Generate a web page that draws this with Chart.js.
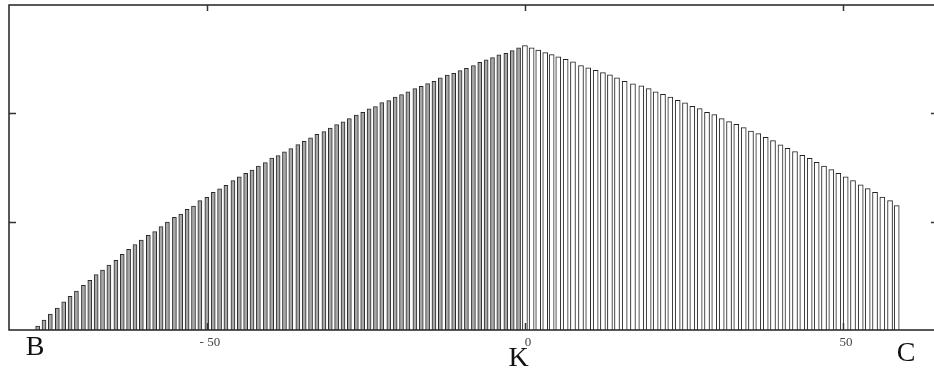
<!DOCTYPE html>
<html>
<head>
<meta charset="utf-8">
<script src="https://cdn.jsdelivr.net/npm/chart.js@4/dist/chart.umd.min.js"></script>
<style>
  html, body { margin: 0; padding: 0; background: #fff; }
  #wrap { width: 934px; height: 372px; }
</style>
</head>
<body>
<div id="wrap"><canvas id="myChart"></canvas></div>
<script>
// bar positions (axis units) and heights
const leftX = [-76.6, -75.6, -74.6, -73.5, -72.5, -71.5, -70.5, -69.4, -68.4, -67.4,
    -66.4, -65.4, -64.3, -63.3, -62.3, -61.3, -60.3, -59.2, -58.2, -57.2,
    -56.2, -55.1, -54.1, -53.1, -52.1, -51.1, -50.0, -49.0, -48.0, -47.0,
    -45.9, -44.9, -43.9, -42.9, -41.9, -40.8, -39.8, -38.8, -37.8, -36.8,
    -35.7, -34.7, -33.7, -32.7, -31.6, -30.6, -29.6, -28.6, -27.6, -26.5,
    -25.5, -24.5, -23.5, -22.5, -21.4, -20.4, -19.4, -18.4, -17.3, -16.3,
    -15.3, -14.3, -13.3, -12.2, -11.2, -10.2, -9.2, -8.1, -7.1, -6.1,
    -5.1, -4.1, -3.0, -2.0, -1.0];
const leftY = [0.037, 0.092, 0.148, 0.203, 0.259, 0.311, 0.360, 0.412, 0.459, 0.511,
    0.554, 0.600, 0.643, 0.699, 0.745, 0.788, 0.831, 0.874, 0.908, 0.954,
    0.997, 1.041, 1.070, 1.114, 1.145, 1.194, 1.225, 1.271, 1.302, 1.336,
    1.379, 1.413, 1.447, 1.477, 1.512, 1.545, 1.588, 1.609, 1.644, 1.674,
    1.711, 1.742, 1.773, 1.807, 1.831, 1.864, 1.896, 1.921, 1.951, 1.985,
    2.010, 2.041, 2.062, 2.099, 2.117, 2.151, 2.173, 2.198, 2.228, 2.250,
    2.274, 2.296, 2.327, 2.352, 2.370, 2.394, 2.416, 2.440, 2.470, 2.493,
    2.514, 2.539, 2.555, 2.579, 2.604];

const rightX = [0, 1.05, 2.09, 3.19, 4.2, 5.24, 6.4, 7.55, 8.81, 9.95,
    11.12, 12.26, 13.36, 14.47, 15.68, 16.98, 18.29, 19.45, 20.55, 21.7,
    22.85, 24.01, 25.16, 26.31, 27.47, 28.62, 29.76, 30.93, 32.08, 33.22,
    34.39, 35.53, 36.68, 37.85, 38.99, 40.17, 41.27, 42.45, 43.6, 44.76,
    45.86, 47.01, 48.16, 49.26, 50.42, 51.57, 52.78, 53.88, 55.03, 56.18,
    57.39, 58.44];
const rightY = [2.625, 2.604, 2.583, 2.560, 2.542, 2.521, 2.499, 2.475, 2.440, 2.419,
    2.398, 2.376, 2.355, 2.327, 2.296, 2.273, 2.253, 2.228, 2.198, 2.176,
    2.151, 2.121, 2.096, 2.065, 2.043, 2.010, 1.988, 1.951, 1.923, 1.899,
    1.868, 1.837, 1.813, 1.779, 1.748, 1.710, 1.678, 1.646, 1.613, 1.585,
    1.548, 1.514, 1.480, 1.447, 1.413, 1.379, 1.339, 1.305, 1.271, 1.228,
    1.194, 1.148];

const xTicks = [-50, 0, 50];
const yTicks = [1, 2];

// point names under the axis
const pointNames = ['B', 'K', 'C'];
const pointX = [-77.0, -1.0, 59.9];

const toPoints = (xs, ys) => xs.map((x, i) => ({ x: x, y: ys[i] }));

// frame, inward tick marks and the B / K / C letters
const framePlugin = {
    id: 'frame',
    afterDraw(chart) {
        const ctx = chart.ctx;
        const a = chart.chartArea;
        const xs = chart.scales.x;
        const ys = chart.scales.y;
        ctx.save();
        ctx.strokeStyle = '#222';
        ctx.lineWidth = 1.5;
        ctx.beginPath();
        ctx.moveTo(a.right + 2, a.top);
        ctx.lineTo(a.left, a.top);
        ctx.lineTo(a.left, a.bottom);
        ctx.lineTo(a.right + 2, a.bottom);
        ctx.stroke();

        ctx.strokeStyle = '#333';
        ctx.beginPath();
        xTicks.forEach(v => {
            const px = Math.round(xs.getPixelForValue(v)) + 0.5;
            ctx.moveTo(px, a.bottom);
            ctx.lineTo(px, a.bottom - 7);
            ctx.moveTo(px, a.top);
            ctx.lineTo(px, a.top + 6);
        });
        yTicks.forEach(v => {
            const py = Math.round(ys.getPixelForValue(v)) + 0.5;
            ctx.moveTo(a.left, py);
            ctx.lineTo(a.left + 7, py);
            ctx.moveTo(a.right, py);
            ctx.lineTo(a.right - 3, py);
        });
        ctx.stroke();

        ctx.fillStyle = '#111';
        ctx.font = '28px "Liberation Serif"';
        ctx.textAlign = 'center';
        ctx.textBaseline = 'alphabetic';
        const base = [355, 366, 361];
        pointNames.forEach((n, i) => {
            ctx.fillText(n, xs.getPixelForValue(pointX[i]), base[i]);
        });
        ctx.restore();
    }
};

const ctx = document.querySelector('#myChart');
const myChart = new Chart(ctx, {
    type: 'bar',
    data: {
        datasets: [
            {
                data: toPoints(leftX, leftY),
                backgroundColor: '#a8a8a8',
                borderColor: '#2a2a2a',
                borderWidth: 1,
                borderSkipped: 'bottom',
                barThickness: 4,
                grouped: false,
            },
            {
                data: toPoints(rightX, rightY),
                backgroundColor: '#ffffff',
                borderColor: '#222',
                borderWidth: 1,
                borderSkipped: 'bottom',
                barThickness: 5,
                grouped: false,
            },
        ],
    },
    options: {
        responsive: true,
        maintainAspectRatio: false,
        animation: false,
        layout: { padding: { left: 9, top: 5, right: 0, bottom: 0 } },
        plugins: {
            legend: { display: false },
            tooltip: { enabled: false },
        },
        scales: {
            x: {
                type: 'linear',
                min: -81.1,
                max: 64.3,
                offset: false,
                grid: { display: false, drawTicks: false },
                border: { display: false },
                afterBuildTicks: (scale) => {
                    scale.ticks = xTicks.map(v => ({ value: v }));
                },
                afterFit: (scale) => { scale.height = 42; },
                ticks: {
                    padding: 5,
                    labelOffset: 3,
                    color: '#444',
                    maxRotation: 0,
                    autoSkip: false,
                    font: { family: 'Liberation Serif', size: 13 },
                    callback: (v) => v < 0 ? '- ' + Math.abs(v) : String(v),
                },
            },
            y: {
                min: 0,
                max: 3,
                grid: { display: false, drawTicks: false },
                border: { display: false },
                ticks: { display: false },
                afterFit: (scale) => { scale.width = 0; },
            },
        },
    },
    plugins: [framePlugin],
});
</script>
</body>
</html>
